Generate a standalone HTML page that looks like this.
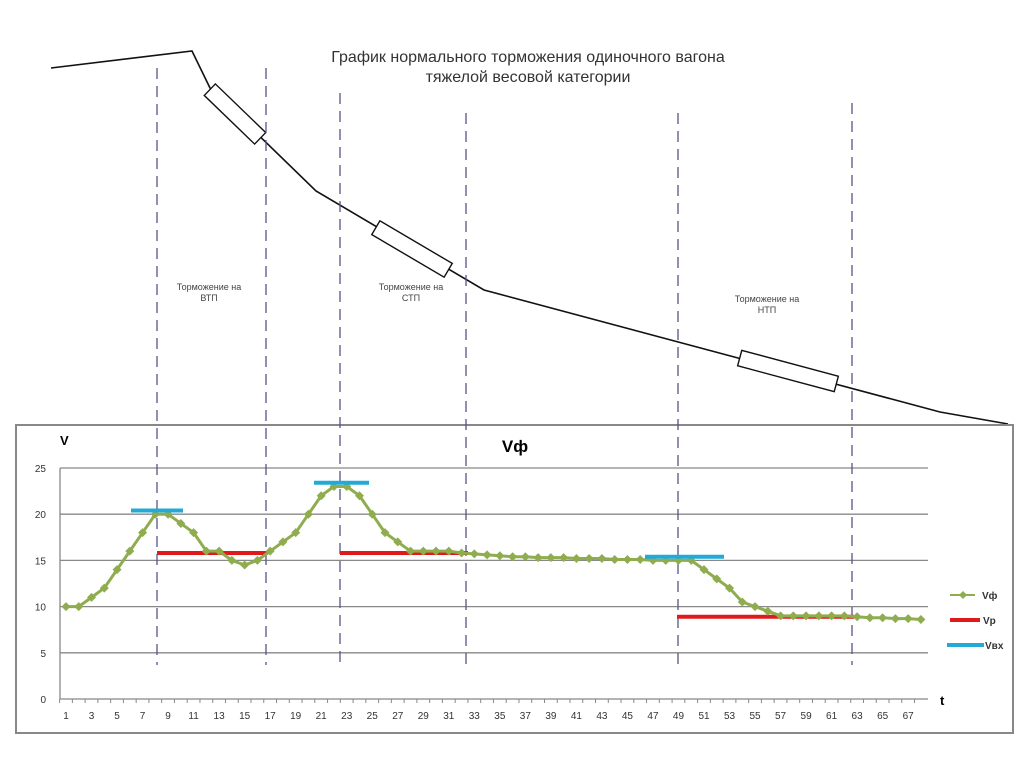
<!DOCTYPE html>
<html><head><meta charset="utf-8"><style>
html,body{margin:0;padding:0;background:#fff;}
svg{display:block;font-family:"Liberation Sans",sans-serif;}
</style></head><body>
<svg id="s" width="1024" height="767" viewBox="0 0 1024 767" xmlns="http://www.w3.org/2000/svg">
<rect width="1024" height="767" fill="#fff"/>
<text x="528" y="62" font-size="16" text-anchor="middle" fill="#333">График нормального торможения одиночного вагона</text>
<text x="528" y="82" font-size="16" text-anchor="middle" fill="#333">тяжелой весовой категории</text>
<polyline points="51,68 192,51 210,88 316,191 484,290 940,412 1008,424" fill="none" stroke="#111" stroke-width="1.6"/>
<rect x="-35" y="-8" width="70" height="16" fill="#fff" stroke="#111" stroke-width="1.4" transform="translate(235,114) rotate(44)"/>
<rect x="-42" y="-8" width="84" height="16" fill="#fff" stroke="#111" stroke-width="1.4" transform="translate(412,249) rotate(30.5)"/>
<rect x="-50" y="-8" width="100" height="16" fill="#fff" stroke="#111" stroke-width="1.4" transform="translate(788,371) rotate(15)"/>
<g font-size="9" fill="#444" text-anchor="middle">
<text x="209" y="290">Торможение на</text><text x="209" y="301">ВТП</text>
<text x="411" y="290">Торможение на</text><text x="411" y="301">СТП</text>
<text x="767" y="302">Торможение на</text><text x="767" y="313">НТП</text>
</g>
<rect x="16" y="425" width="997" height="308" fill="#fff" stroke="#888" stroke-width="2"/>
<g id="chart"></g>
<text x="60" y="445" font-size="13" font-weight="bold">V</text>
<text x="515" y="452" font-size="17" font-weight="bold" text-anchor="middle">Vф</text>
<text x="940" y="705" font-size="13" font-weight="bold">t</text>
<g font-size="10" font-weight="bold" fill="#333">
<line x1="950" y1="595" x2="975" y2="595" stroke="#8fad4e" stroke-width="2"/>
<path d="M963 591 L967 595 L963 599 L959 595Z" fill="#8fad4e"/>
<text x="982" y="599">Vф</text>
<line x1="950" y1="620" x2="980" y2="620" stroke="#e01a1a" stroke-width="4"/>
<text x="983" y="624">Vp</text>
<line x1="947" y1="645" x2="984" y2="645" stroke="#22a9d6" stroke-width="4"/>
<text x="985" y="649">Vвх</text>
</g>
</svg>
<script>
var ns="http://www.w3.org/2000/svg",g=document.getElementById("chart");
function el(t,a){var e=document.createElementNS(ns,t);for(var k in a)e.setAttribute(k,a[k]);g.appendChild(e);return e;}
var X=function(t){return 66+(t-1)*12.76},Y=function(v){return 699-v*9.24};
for(var v=5;v<=25;v+=5){el("line",{x1:60,y1:Y(v),x2:928,y2:Y(v),stroke:"#888","stroke-width":1.3});}
el("line",{x1:60,y1:468,x2:60,y2:699,stroke:"#888","stroke-width":1.3});
el("line",{x1:60,y1:699,x2:928,y2:699,stroke:"#888","stroke-width":1.3});
for(var v=0;v<=25;v+=5){var t=el("text",{x:46,y:Y(v)+4,"font-size":10,"text-anchor":"end",fill:"#333"});t.textContent=v;}
for(var i=1;i<=68;i++){el("line",{x1:X(i)-6.4,y1:699,x2:X(i)-6.4,y2:703,stroke:"#888"});
 if(i%2==1){var t=el("text",{x:X(i),y:719,"font-size":10,"text-anchor":"middle",fill:"#333"});t.textContent=i;}}
var d=[10,10,11,12,14,16,18,20,20,19,18,16,16,15,14.5,15,16,17,18,20,22,23,23,22,20,18,17,16,16,16,16,15.8,15.7,15.6,15.5,15.4,15.4,15.3,15.3,15.3,15.2,15.2,15.2,15.1,15.1,15.1,15,15,15,15,14,13,12,10.5,10,9.5,9,9,9,9,9,9,8.9,8.8,8.8,8.7,8.7,8.6];
var dl=[[157,68],[266,68],[340,93],[466,113],[678,113],[852,103]];
dl.forEach(function(p){el("line",{x1:p[0],y1:p[1],x2:p[0],y2:665,stroke:"#55558a","stroke-width":1.3,"stroke-dasharray":"11,7"});});
el("line",{x1:157,y1:Y(15.8),x2:268,y2:Y(15.8),stroke:"#e01a1a","stroke-width":4});
el("line",{x1:340,y1:Y(15.8),x2:468,y2:Y(15.8),stroke:"#e01a1a","stroke-width":4});
el("line",{x1:677,y1:Y(8.9),x2:854,y2:Y(8.9),stroke:"#e01a1a","stroke-width":4});
var pts=d.map(function(v,i){return X(i+1)+","+Y(v)}).join(" ");
el("polyline",{points:pts,fill:"none",stroke:"#8fad4e","stroke-width":3});
d.forEach(function(v,i){var x=X(i+1),y=Y(v);el("path",{d:"M"+x+" "+(y-4.5)+"L"+(x+4.5)+" "+y+"L"+x+" "+(y+4.5)+"L"+(x-4.5)+" "+y+"Z",fill:"#8fad4e"});});
el("line",{x1:131,y1:Y(20.4),x2:183,y2:Y(20.4),stroke:"#22a9d6","stroke-width":4});
el("line",{x1:314,y1:Y(23.4),x2:369,y2:Y(23.4),stroke:"#22a9d6","stroke-width":4});
el("line",{x1:645,y1:Y(15.4),x2:724,y2:Y(15.4),stroke:"#22a9d6","stroke-width":4});
</script>
</body></html>
